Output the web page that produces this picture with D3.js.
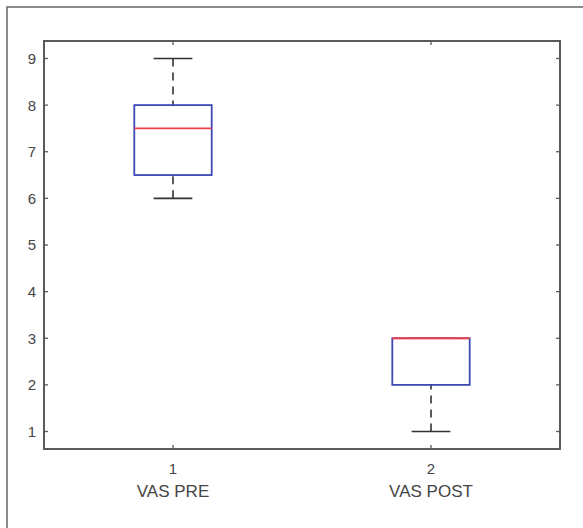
<!DOCTYPE html>
<html><head><meta charset="utf-8">
<script src="https://d3js.org/d3.v7.min.js"></script>
<style>body{margin:0;background:#fff;} svg{display:block;}</style>
</head><body>
<script>
const categories = ["VAS PRE", "VAS POST"];
const positions = [1, 2];
const q1 = [6.5, 2];
const median = [7.5, 3];
const q3 = [8, 3];
const whiskerLow = [6, 1];
const whiskerHigh = [9, 3];
const yTicks = [1, 2, 3, 4, 5, 6, 7, 8, 9];

const W = 583, H = 528;
const svg = d3.select("body").append("svg").attr("width", W).attr("height", H);
const axisColor = "#5a5a5a", textColor = "#454545";
const font = "Liberation Sans, Arial, sans-serif";

// outer frame
svg.append("path").attr("d", `M7,${H} L7,7 L${W},7`).attr("fill", "none")
  .attr("stroke", "#666").attr("stroke-width", 1.5);

const L = 44, R = 560, T = 41, B = 449;
const x = d3.scaleLinear().domain([0.5, 2.5]).range([L, R]);
const y = d3.scaleLinear().domain([0.625, 9.375]).range([B, T]);

const g = svg.append("g");
const tickLen = 4;
yTicks.forEach(t => {
  g.append("line").attr("x1", L).attr("x2", L + tickLen).attr("y1", y(t)).attr("y2", y(t)).attr("stroke", axisColor).attr("stroke-width", 1.3);
  g.append("line").attr("x1", R).attr("x2", R - tickLen).attr("y1", y(t)).attr("y2", y(t)).attr("stroke", axisColor).attr("stroke-width", 1.3);
  g.append("text").attr("x", L - 8).attr("y", y(t)).attr("dy", "0.36em").attr("text-anchor", "end")
    .attr("font-family", font).attr("font-size", 15).attr("fill", textColor).text(t);
});
positions.forEach((p, i) => {
  g.append("line").attr("x1", x(p)).attr("x2", x(p)).attr("y1", B).attr("y2", B - tickLen).attr("stroke", axisColor).attr("stroke-width", 1.3);
  g.append("line").attr("x1", x(p)).attr("x2", x(p)).attr("y1", T).attr("y2", T + tickLen).attr("stroke", axisColor).attr("stroke-width", 1.3);
  g.append("text").attr("x", x(p)).attr("y", 474).attr("text-anchor", "middle")
    .attr("font-family", font).attr("font-size", 15).attr("fill", textColor).text(p);
  g.append("text").attr("x", x(p)).attr("y", 497).attr("text-anchor", "middle")
    .attr("font-family", font).attr("font-size", 17).attr("fill", textColor).text(categories[i]);
});

const boxW = 0.3, capW = 0.15;
positions.forEach((p, i) => {
  const bx = g.append("g");
  [[whiskerHigh[i], q3[i]], [whiskerLow[i], q1[i]]].forEach(([w, q]) => {
    if (w !== q) {
      bx.append("line").attr("x1", x(p)).attr("x2", x(p)).attr("y1", y(w)).attr("y2", y(q))
        .attr("stroke", "#333").attr("stroke-width", 1.6).attr("stroke-dasharray", "8,6");
    }
    bx.append("line").attr("x1", x(p - capW / 2)).attr("x2", x(p + capW / 2)).attr("y1", y(w)).attr("y2", y(w))
      .attr("stroke", "#333").attr("stroke-width", 1.6);
  });
  bx.append("rect").attr("x", x(p - boxW / 2)).attr("y", y(q3[i]))
    .attr("width", x(p + boxW / 2) - x(p - boxW / 2)).attr("height", y(q1[i]) - y(q3[i]))
    .attr("fill", "none").attr("stroke", "#3d49b5").attr("stroke-width", 1.8);
  bx.append("line").attr("x1", x(p - boxW / 2)).attr("x2", x(p + boxW / 2)).attr("y1", y(median[i])).attr("y2", y(median[i]))
    .attr("stroke", "#f0404a").attr("stroke-width", 1.8);
});

g.append("rect").attr("x", L).attr("y", T).attr("width", R - L).attr("height", B - T)
  .attr("fill", "none").attr("stroke", axisColor).attr("stroke-width", 2);
</script>
</body></html>
